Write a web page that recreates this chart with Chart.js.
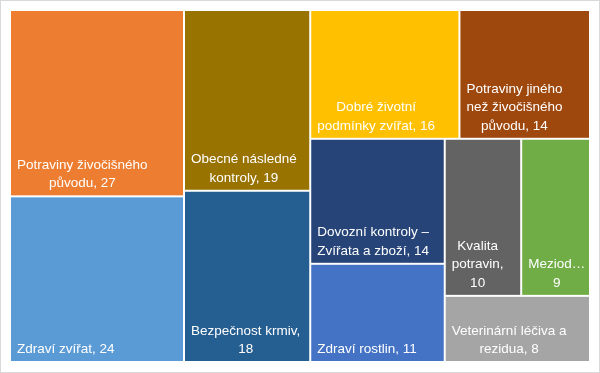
<!DOCTYPE html>
<html lang="cs">
<head>
    <meta charset="UTF-8">
    <meta name="viewport" content="width=device-width, initial-scale=1.0">
    <title>Kontroly - treemap</title>
    <script src="https://cdn.jsdelivr.net/npm/chart.js@4"></script>
    <style>
        body {
            margin: 0;
            padding: 0;
            background: #fff;
        }

        .chart-box {
            width: 598px;
            height: 371px;
            border: 1px solid #d9d9d9;
        }
    </style>
</head>
<body>
    <div class="chart-box">
        <canvas id="treemapChart"></canvas>
    </div>

    <script>
        // data, sorted largest first (treemap order)
        const categories = [
            'Potraviny živočišného původu',
            'Zdraví zvířat',
            'Obecné následné kontroly',
            'Bezpečnost krmiv',
            'Dobré životní podmínky zvířat',
            'Potraviny jiného než živočišného původu',
            'Dovozní kontroly – Zvířata a zboží',
            'Zdraví rostlin',
            'Kvalita potravin',
            'Meziod…',
            'Veterinární léčiva a rezidua'
        ];
        const counts = [27, 24, 19, 18, 16, 14, 14, 11, 10, 9, 8];
        const cellColors = [
            '#ED7D31', '#5B9BD5', '#997300', '#255E91', '#FFC000', '#9E480E',
            '#264478', '#4472C4', '#636363', '#70AD47', '#A5A5A5'
        ];

        const labelFont = '13.5px "Liberation Sans", Arial, sans-serif';
        const lineHeight = 18.5;

        // worst aspect ratio of a strip laid along `side`
        function worst(row, side, k) {
            const s = row.reduce((a, b) => a + b, 0) * k;
            let w = 0;
            row.forEach(v => {
                const a = v * k;
                w = Math.max(w, (side * side * a) / (s * s), (s * s) / (side * side * a));
            });
            return w;
        }

        // squarified layout, every strip takes at least two items
        function squarify(values, box) {
            const total = values.reduce((a, b) => a + b, 0);
            const k = box.w * box.h / total;
            const rects = [];
            let r = { ...box };
            let i = 0;
            while (i < values.length) {
                const side = Math.min(r.w, r.h);
                const row = [values[i++]];
                if (i < values.length) row.push(values[i++]);
                while (i < values.length && worst(row.concat(values[i]), side, k) <= worst(row, side, k)) {
                    row.push(values[i++]);
                }
                const sum = row.reduce((a, b) => a + b, 0) * k;
                if (r.w >= r.h) {
                    const w = sum / r.h;
                    let y = r.y;
                    row.forEach(v => {
                        const h = v * k / w;
                        rects.push({ x: r.x, y: y, w: w, h: h });
                        y += h;
                    });
                    r = { x: r.x + w, y: r.y, w: r.w - w, h: r.h };
                } else {
                    const h = sum / r.w;
                    let x = r.x;
                    row.forEach(v => {
                        const w = v * k / h;
                        rects.push({ x: x, y: r.y, w: w, h: h });
                        x += w;
                    });
                    r = { x: r.x, y: r.y + h, w: r.w, h: r.h - h };
                }
            }
            return rects;
        }

        function wrapText(ctx, text, maxWidth) {
            const words = text.split(' ');
            const lines = [];
            let line = '';
            words.forEach(word => {
                const test = line ? line + ' ' + word : word;
                if (line && ctx.measureText(test).width > maxWidth) {
                    lines.push(line);
                    line = word;
                } else {
                    line = test;
                }
            });
            if (line) lines.push(line);
            return lines;
        }

        const treemapPlugin = {
            id: 'treemapCells',
            afterDatasetsDraw(chart) {
                const { ctx, chartArea, scales } = chart;
                const ds = chart.data.datasets[0];
                const aspect = (chartArea.right - chartArea.left) / (chartArea.bottom - chartArea.top);
                const cells = squarify(ds.data, { x: 0, y: 0, w: aspect, h: 1 });

                ctx.save();
                ctx.font = labelFont;
                cells.forEach((c, i) => {
                    const left = scales.x.getPixelForValue(c.x / aspect);
                    const right = scales.x.getPixelForValue((c.x + c.w) / aspect);
                    const top = scales.y.getPixelForValue(c.y);
                    const bottom = scales.y.getPixelForValue(c.y + c.h);

                    ctx.fillStyle = ds.backgroundColor[i];
                    ctx.fillRect(left + 1, top + 1, right - left - 2, bottom - top - 2);

                    const text = (chart.data.labels[i] + ', ' + ds.data[i]).replace('…,', '…');
                    const lines = wrapText(ctx, text, right - left - 12);
                    const widths = lines.map(l => ctx.measureText(l).width);
                    const blockW = Math.max(...widths);
                    ctx.fillStyle = '#ffffff';
                    ctx.textBaseline = 'alphabetic';
                    lines.forEach((l, j) => {
                        const lx = left + 7 + (blockW - widths[j]) / 2;
                        const ly = bottom - 9 - (lines.length - 1 - j) * lineHeight;
                        ctx.fillText(l, lx, ly);
                    });
                });
                ctx.restore();
            }
        };

        const treemapChart = new Chart(document.getElementById('treemapChart').getContext('2d'), {
            type: 'bar',
            data: {
                labels: categories,
                datasets: [{
                    label: 'Počet kontrol',
                    data: counts,
                    backgroundColor: cellColors,
                    hidden: true
                }]
            },
            options: {
                responsive: true,
                maintainAspectRatio: false,
                animation: false,
                layout: {
                    padding: { left: 9, right: 9, top: 9, bottom: 10 }
                },
                scales: {
                    x: { type: 'linear', min: 0, max: 1, offset: false, display: false },
                    y: { type: 'linear', min: 0, max: 1, reverse: true, display: false }
                },
                plugins: {
                    legend: { display: false },
                    tooltip: { enabled: false }
                }
            },
            plugins: [treemapPlugin]
        });
    </script>
</body>
</html>
